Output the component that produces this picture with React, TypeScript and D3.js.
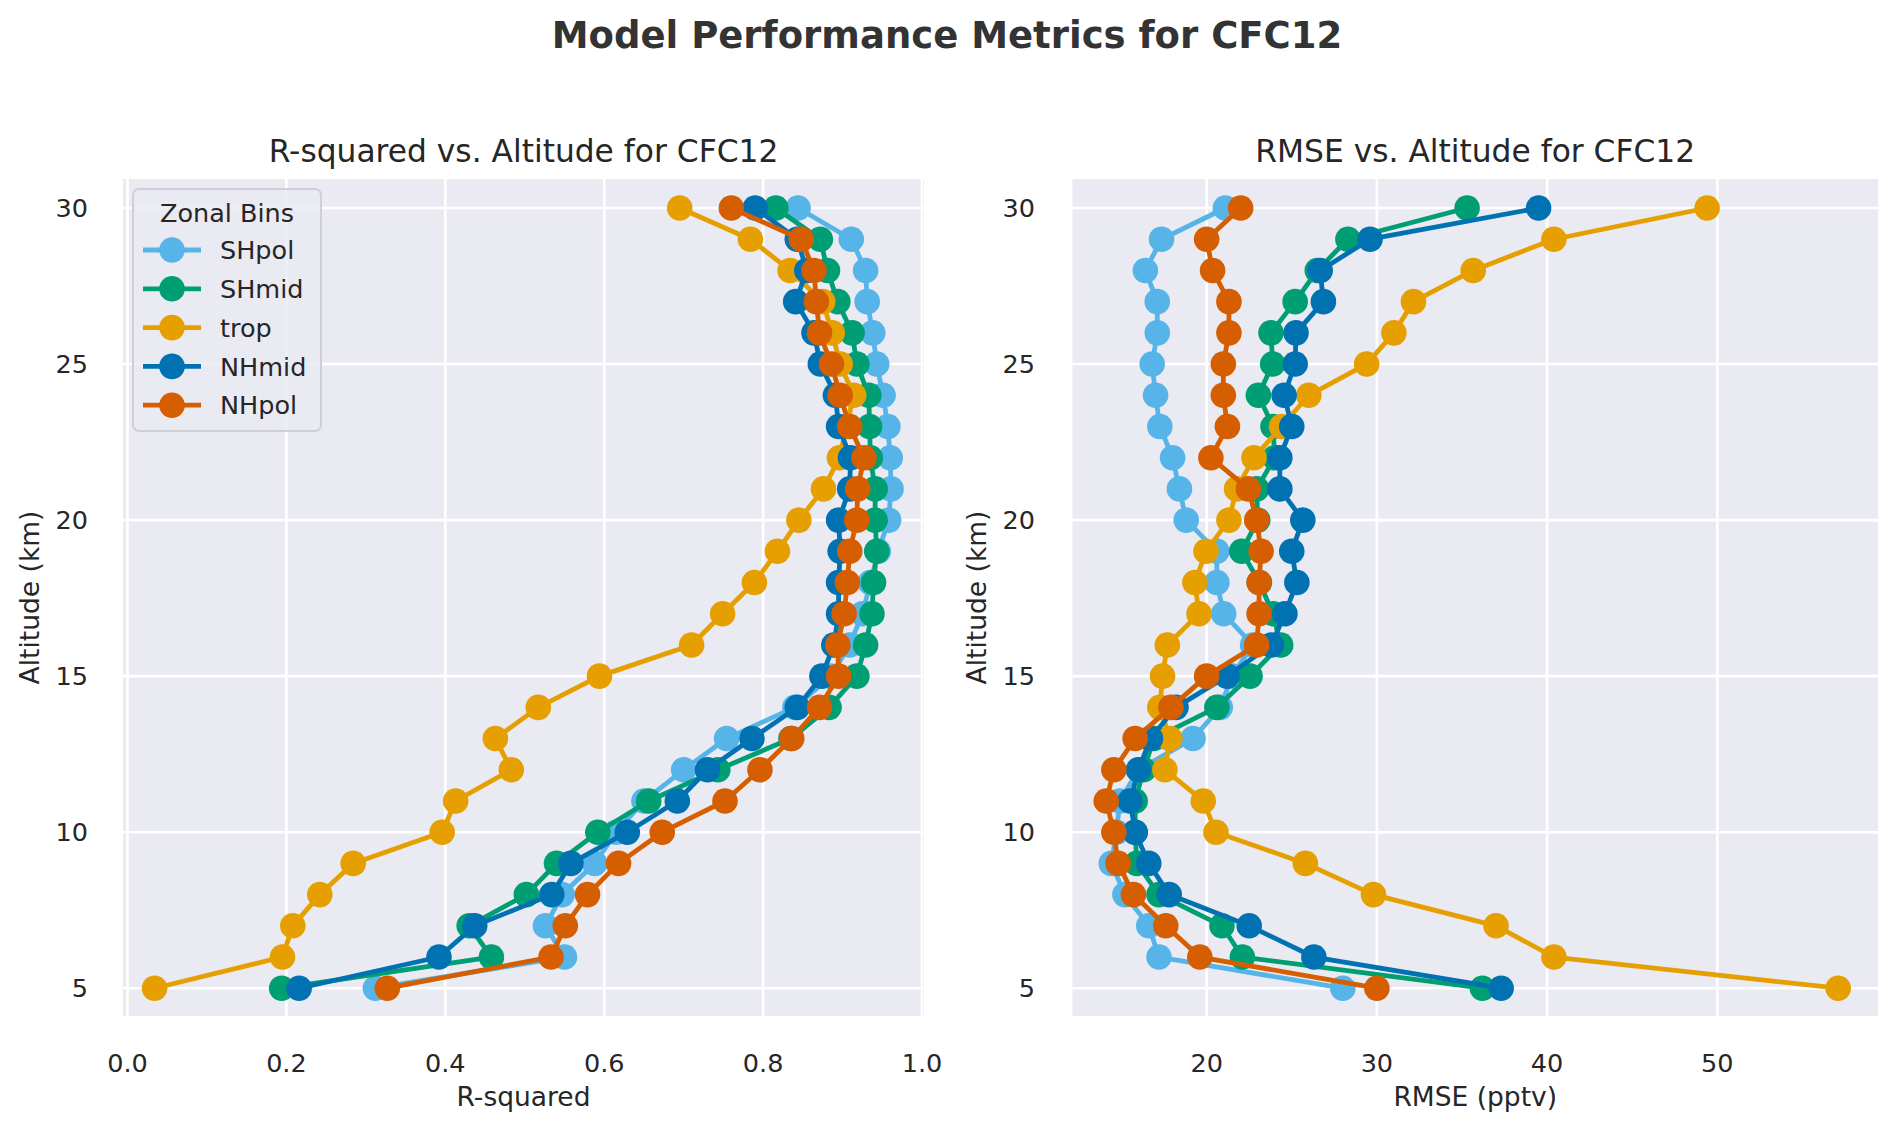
import React from 'react';
import * as d3 from 'd3';

// altitude bins (km)
const altitudes = [5, 6, 7, 8, 9, 10, 11, 12, 13, 14, 15, 16, 17, 18, 19, 20, 21, 22, 23, 24, 25, 26, 27, 28, 29, 30];

const zoneNames = ['SHpol', 'SHmid', 'trop', 'NHmid', 'NHpol'];
const zoneColors = ['#56B4E9', '#009E73', '#E69F00', '#0072B2', '#D55E00'];

// R-squared per zonal bin, altitude 5 -> 30 km
const r2SHpol = [0.312, 0.550, 0.526, 0.547, 0.588, 0.615, 0.650, 0.700, 0.754, 0.840, 0.885, 0.909, 0.925, 0.935, 0.945, 0.958, 0.961, 0.960, 0.957, 0.951, 0.943, 0.938, 0.931, 0.929, 0.911, 0.844];
const r2SHmid = [0.194, 0.458, 0.430, 0.502, 0.540, 0.592, 0.656, 0.743, 0.835, 0.883, 0.918, 0.929, 0.937, 0.939, 0.943, 0.941, 0.941, 0.935, 0.934, 0.933, 0.918, 0.912, 0.894, 0.881, 0.872, 0.816];
const r2Trop = [0.034, 0.195, 0.208, 0.242, 0.284, 0.396, 0.413, 0.483, 0.463, 0.517, 0.594, 0.710, 0.749, 0.789, 0.818, 0.845, 0.876, 0.896, 0.905, 0.914, 0.897, 0.887, 0.875, 0.834, 0.784, 0.695];
const r2NHmid = [0.216, 0.392, 0.437, 0.534, 0.558, 0.629, 0.692, 0.730, 0.786, 0.843, 0.874, 0.889, 0.895, 0.895, 0.897, 0.895, 0.909, 0.910, 0.895, 0.891, 0.872, 0.864, 0.841, 0.855, 0.843, 0.790];
const r2NHpol = [0.327, 0.533, 0.551, 0.579, 0.618, 0.673, 0.752, 0.796, 0.836, 0.871, 0.895, 0.894, 0.902, 0.906, 0.909, 0.918, 0.919, 0.927, 0.909, 0.897, 0.886, 0.871, 0.867, 0.864, 0.848, 0.760];

// RMSE (pptv) per zonal bin, altitude 5 -> 30 km
const rmseSHpol = [28.0, 17.2, 16.6, 15.2, 14.4, 14.7, 14.9, 16.0, 19.2, 20.8, 21.5, 22.7, 21.0, 20.6, 20.6, 18.8, 18.4, 18.0, 17.25, 17.0, 16.8, 17.1, 17.1, 16.4, 17.35, 21.1];
const rmseSHmid = [36.2, 22.1, 20.9, 17.2, 15.9, 15.8, 15.8, 16.3, 16.9, 20.6, 22.55, 24.35, 23.9, 23.1, 22.06, 23.0, 22.94, 24.0, 23.9, 23.04, 23.88, 23.78, 25.2, 26.5, 28.3, 35.3];
const rmseTrop = [57.1, 40.4, 37.0, 29.8, 25.8, 20.55, 19.8, 17.55, 17.84, 17.25, 17.41, 17.69, 19.55, 19.31, 19.96, 21.31, 21.76, 22.78, 24.4, 26.0, 29.4, 31.0, 32.15, 35.66, 40.4, 49.4];
const rmseNHmid = [37.3, 26.3, 22.5, 17.8, 16.6, 15.8, 15.5, 16.0, 16.7, 18.2, 21.2, 23.8, 24.6, 25.3, 25.0, 25.65, 24.3, 24.3, 25.0, 24.55, 25.2, 25.25, 26.86, 26.67, 29.6, 39.5];
const rmseNHpol = [30.0, 19.6, 17.6, 15.7, 14.8, 14.55, 14.1, 14.55, 15.8, 17.9, 20.0, 22.94, 23.08, 23.08, 23.2, 22.94, 22.45, 20.25, 21.22, 20.98, 20.98, 21.31, 21.31, 20.35, 20.0, 22.0];

const r2Ticks = [0, 0.2, 0.4, 0.6, 0.8, 1.0];
const rmseTicks = [20, 30, 40, 50];
const altTicks = [5, 10, 15, 20, 25, 30];

const r2Series = [r2SHpol, r2SHmid, r2Trop, r2NHmid, r2NHpol];
const rmseSeries = [rmseSHpol, rmseSHmid, rmseTrop, rmseNHmid, rmseNHpol];

const W = 1892;
const H = 1133;
const FONT = '"DejaVu Sans", sans-serif';
const TEXT = '#262626';
const BG = '#EAEAF2';
const TOP = 179;
const BOTTOM = 1016;

const yScale = d3.scaleLinear().domain([4.11, 30.93]).range([BOTTOM, TOP]);

interface PanelProps {
  left: number;
  right: number;
  xDomain: [number, number];
  xTicks: number[];
  fmt: (v: number) => string;
  series: number[][];
  title: string;
  xLabel: string;
  tickLabelX: number;
  legend?: boolean;
}

const Panel: React.FC<PanelProps> = ({ left, right, xDomain, xTicks, fmt, series, title, xLabel, tickLabelX, legend }) => {
  const x = d3.scaleLinear().domain(xDomain).range([left, right]);
  const line = d3
    .line<number>()
    .x((d) => x(d))
    .y((_, i) => yScale(altitudes[i]));
  const cx = (left + right) / 2;

  return (
    <g>
      <rect x={left} y={TOP} width={right - left} height={BOTTOM - TOP} fill={BG} />
      {/* grid */}
      {xTicks.map((t) => (
        <line key={'gx' + t} x1={x(t)} x2={x(t)} y1={TOP} y2={BOTTOM} stroke="#fff" strokeWidth={2.6} />
      ))}
      {altTicks.map((t) => (
        <line key={'gy' + t} x1={left} x2={right} y1={yScale(t)} y2={yScale(t)} stroke="#fff" strokeWidth={2.6} />
      ))}
      {/* tick labels */}
      {xTicks.map((t) => (
        <text key={'tx' + t} x={x(t)} y={1072} textAnchor="middle" fontSize={25.5} fill={TEXT}>
          {fmt(t)}
        </text>
      ))}
      {altTicks.map((t) => (
        <text key={'ty' + t} x={tickLabelX} y={yScale(t) + 9.2} textAnchor="end" fontSize={25.5} fill={TEXT}>
          {t}
        </text>
      ))}
      {/* series: line then markers, later bins on top */}
      {series.map((vals, si) => (
        <g key={zoneNames[si]}>
          <path d={line(vals) || ''} fill="none" stroke={zoneColors[si]} strokeWidth={4.8} strokeLinejoin="round" />
          {vals.map((v, i) => (
            <circle key={i} cx={x(v)} cy={yScale(altitudes[i])} r={12.8} fill={zoneColors[si]} />
          ))}
        </g>
      ))}
      <text x={cx} y={162} textAnchor="middle" fontSize={31.3} fill={TEXT}>
        {title}
      </text>
      <text x={cx} y={1106} textAnchor="middle" fontSize={26.5} fill={TEXT}>
        {xLabel}
      </text>
      <text
        transform={`translate(${tickLabelX - 49}, ${(TOP + BOTTOM) / 2}) rotate(-90)`}
        textAnchor="middle"
        fontSize={26.5}
        fill={TEXT}
      >
        Altitude (km)
      </text>
      {legend && (
        <g>
          <rect x={133} y={189} width={188} height={242} rx={6} fill={BG} fillOpacity={0.8} stroke="#cfcfd6" strokeWidth={2} />
          <text x={227} y={222} textAnchor="middle" fontSize={25.5} fill={TEXT}>
            Zonal Bins
          </text>
          {zoneNames.map((name, i) => {
            const ly = 250 + i * 38.8;
            return (
              <g key={name}>
                <line x1={143} x2={201} y1={ly} y2={ly} stroke={zoneColors[i]} strokeWidth={4.8} />
                <circle cx={172} cy={ly} r={12.8} fill={zoneColors[i]} />
                <text x={220} y={ly + 9.2} fontSize={25.5} fill={TEXT}>
                  {name}
                </text>
              </g>
            );
          })}
        </g>
      )}
    </g>
  );
};

const App: React.FC = () => {
  return (
    <svg
      width={W}
      height={H}
      viewBox={`0 0 ${W} ${H}`}
      style={{ position: 'absolute', left: 0, top: 0, background: '#fff' }}
      fontFamily={FONT}
    >
      <rect width={W} height={H} fill="#fff" />
      <text x={947} y={48} textAnchor="middle" fontSize={37} fontWeight="bold" fill="#333">
        Model Performance Metrics for CFC12
      </text>
      <Panel
        left={123}
        right={924}
        xDomain={[-0.0057, 1.0025]}
        xTicks={r2Ticks}
        fmt={d3.format('.1f')}
        series={r2Series}
        title="R-squared vs. Altitude for CFC12"
        xLabel="R-squared"
        tickLabelX={88}
        legend
      />
      <Panel
        left={1072.5}
        right={1878}
        xDomain={[12.12, 59.44]}
        xTicks={rmseTicks}
        fmt={d3.format('d')}
        series={rmseSeries}
        title="RMSE vs. Altitude for CFC12"
        xLabel="RMSE (pptv)"
        tickLabelX={1035}
      />
    </svg>
  );
};

export default App;
